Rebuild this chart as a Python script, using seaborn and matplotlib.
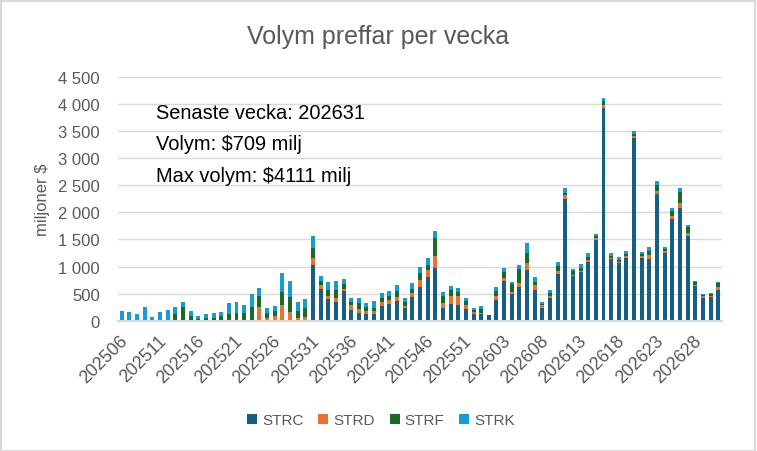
import matplotlib
matplotlib.use("Agg")
import matplotlib.pyplot as plt
from matplotlib.patches import Patch, Rectangle
from matplotlib.transforms import ScaledTranslation
from matplotlib.ticker import FuncFormatter
import numpy as np
import pandas as pd
import seaborn as sns

# ---------------- data ----------------
weeks = [f"2025{w:02d}" for w in range(6, 54)] + [f"2026{w:02d}" for w in range(1, 32)]

STRC = [0, 0, 0, 0, 0, 0, 0, 0, 0, 0,
        0, 0, 0, 0, 0, 0, 0, 0, 0, 0,
        0, 0, 0, 0, 0, 1037, 592, 407, 352, 555,
        204, 148, 130, 130, 278, 315, 370, 241, 444, 629,
        814, 981, 241, 315, 296, 222, 130, 130, 93, 389,
        740, 500, 629, 944, 574, 241, 426, 870, 2252, 833,
        907, 1092, 1499, 3925, 1148, 1074, 1166, 3381, 1166, 1148,
        2345, 1259, 1882, 2085, 1555, 648, 426, 444, 575]
STRD = [0, 0, 0, 0, 0, 0, 0, 0, 0, 0,
        0, 0, 0, 0, 0, 0, 0, 0, 247, 43,
        80, 284, 154, 43, 74, 130, 62, 56, 74, 37,
        93, 74, 56, 56, 74, 74, 74, 37, 74, 130,
        130, 222, 93, 148, 167, 74, 37, 19, 0, 74,
        56, 37, 74, 130, 93, 56, 37, 56, 74, 19,
        19, 37, 19, 56, 19, 19, 37, 37, 37, 74,
        56, 37, 56, 93, 56, 19, 37, 19, 56]
STRF = [0, 0, 0, 0, 0, 0, 0, 123, 253, 86,
        31, 49, 49, 86, 117, 136, 136, 247, 204, 93,
        93, 241, 278, 130, 167, 167, 86, 111, 148, 93,
        56, 111, 74, 56, 74, 74, 111, 74, 74, 130,
        93, 315, 130, 111, 74, 74, 37, 74, 12, 93,
        111, 148, 259, 185, 56, 19, 56, 93, 37, 74,
        56, 56, 37, 74, 19, 19, 37, 37, 37, 56,
        111, 37, 93, 204, 111, 56, 19, 37, 56]
STRK = [179, 160, 123, 253, 68, 160, 197, 130, 92, 93,
        55, 74, 93, 74, 204, 203, 148, 240, 148, 93,
        93, 352, 296, 167, 167, 222, 93, 148, 167, 93,
        74, 93, 74, 130, 93, 93, 111, 74, 111, 111,
        130, 130, 74, 74, 74, 56, 37, 56, 6, 74,
        74, 37, 74, 167, 93, 37, 56, 74, 93, 37,
        56, 74, 37, 56, 56, 56, 56, 56, 37, 74,
        74, 37, 56, 74, 37, 19, 19, 19, 22]

series_names = ["STRC", "STRD", "STRF", "STRK"]
colors = {"STRC": "#156082", "STRD": "#E97132", "STRF": "#196B24", "STRK": "#0F9ED5"}

title = "Volym preffar per vecka"
ylabel = "miljoner $"
notes = ["Senaste vecka: 202631", "Volym: $709 milj", "Max volym: $4111 milj"]
yticks = list(range(0, 5000, 500))

df = pd.DataFrame({"week": weeks, "STRC": STRC, "STRD": STRD, "STRF": STRF, "STRK": STRK})

# ---------------- figure ----------------
sns.set_theme(style="white")
plt.rcParams["font.family"] = ["Liberation Sans", "DejaVu Sans"]

W, H = 757, 452
fig = plt.figure(figsize=(W / 100, H / 100), dpi=100)
ax = fig.add_axes([118 / W, 1 - 321.7 / H, (722 - 118) / W, (321.7 - 78) / H])

# stacked bars by overlaying cumulative totals (top-most first)
cum = df[series_names].cumsum(axis=1)
for name in reversed(series_names):
    sns.barplot(data=df.assign(val=cum[name]), x="week", y="val", order=weeks,
                color=colors[name], saturation=1, width=0.52, errorbar=None,
                linewidth=0, ax=ax, zorder=3)

ax.set_xlim(-0.5, len(weeks) - 0.5)
ax.set_ylim(0, 4500)
ax.set_yticks(yticks)
ax.yaxis.set_major_formatter(FuncFormatter(lambda v, p: f"{int(v):,}".replace(",", " ")))
ax.grid(axis="y", color="#D9D9D9", linewidth=1.0, zorder=0)
ax.grid(axis="x", visible=False)
ax.set_axisbelow(True)
for s in ["top", "right", "left"]:
    ax.spines[s].set_visible(False)
ax.spines["bottom"].set_color("#D9D9D9")
ax.spines["bottom"].set_linewidth(1.5)
ax.spines["bottom"].set_zorder(4)

ax.set_xlabel("")
ax.set_ylabel("")
tick_pos = list(range(0, len(weeks), 5))
ax.set_xticks(tick_pos)
ax.set_xticklabels([weeks[i] for i in tick_pos], rotation=45, ha="right", va="top",
                   rotation_mode="anchor")
ax.tick_params(axis="x", length=0, pad=8, labelsize=12.8, labelcolor="#595959")
ax.tick_params(axis="y", length=0, pad=13, labelsize=12, labelcolor="#595959")
off = ScaledTranslation(-2.5 / 100, 0, fig.dpi_scale_trans)
for lab in ax.get_xticklabels():
    lab.set_transform(lab.get_transform() + off)

# texts
fig.text(378.5 / W, 1 - 44 / H, title, ha="center", va="baseline", fontsize=18, color="#595959")
fig.text(43 / W, 1 - 200 / H, ylabel, ha="center", va="center", rotation=90,
         fontsize=12, color="#595959")
for i, t in enumerate(notes):
    fig.text(156 / W, 1 - (119 + 31.3 * i) / H, t, ha="left", va="baseline",
             fontsize=14.4, color="#000000")

# legend
handles = [Patch(facecolor=colors[n], edgecolor="none", label=n) for n in series_names]
leg = fig.legend(handles=handles, loc="center", bbox_to_anchor=(381 / W, 1 - 421 / H),
                 ncol=4, frameon=False, fontsize=11, handlelength=0.65, handleheight=0.65,
                 handletextpad=0.35, columnspacing=0.95)
for t in leg.get_texts():
    t.set_color("#595959")

# outer border
fig.patches.append(Rectangle((0.5 / W, 0.5 / H), 1 - 2.5 / W, 1 - 2.5 / H, transform=fig.transFigure,
                             fill=False, edgecolor="#D9D9D9", linewidth=1.5))

fig.savefig("out.png", dpi=100)
